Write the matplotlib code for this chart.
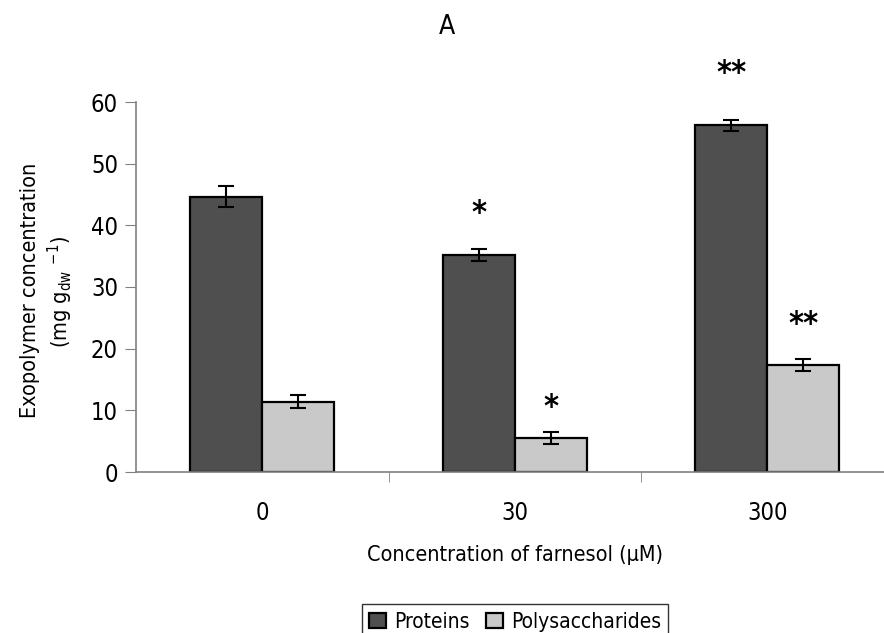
import matplotlib

matplotlib.use("Agg")
import matplotlib.pyplot as plt
import numpy as np

# data
conc_labels = ["0", "30", "300"]
proteins = [44.6, 35.2, 56.2]
proteins_err = [1.7, 1.0, 0.9]
polysacch = [11.4, 5.5, 17.4]
polysacch_err = [1.1, 1.0, 1.0]
prot_marks = ["", "*", "**"]
poly_marks = ["", "*", "**"]

plt.rcParams["font.family"] = ["DejaVu Sans"]
plt.rcParams["font.stretch"] = "condensed"

fig = plt.figure(figsize=(8.84, 6.33), dpi=100)
ax = fig.add_axes([136 / 884, 1 - 472 / 633, 757.5 / 884, 370 / 633])

x = np.arange(len(conc_labels))
w = 0.286
ax.bar(x - w / 2, proteins, w, color="#4f4f4f", edgecolor="black", lw=1.6, label="Proteins", zorder=2)
ax.bar(x + w / 2, polysacch, w, color="#c9c9c9", edgecolor="black", lw=1.6, label="Polysaccharides", zorder=2)
ax.errorbar(x - w / 2, proteins, yerr=proteins_err, fmt="none", ecolor="black", elinewidth=1.5,
            capsize=6, capthick=1.5, zorder=3)
ax.errorbar(x + w / 2, polysacch, yerr=polysacch_err, fmt="none", ecolor="black", elinewidth=1.5,
            capsize=6, capthick=1.5, zorder=3)

# significance marks
for xi, v, e, m in zip(x - w / 2, proteins, proteins_err, prot_marks):
    if m:
        off = 3.2 if len(m) == 1 else 5.0
        ax.text(xi, v + e + off, m, ha="center", va="bottom", fontsize=23, fontweight="bold")
for xi, v, e, m in zip(x + w / 2, polysacch, polysacch_err, poly_marks):
    if m:
        off = 1.4 if len(m) == 1 else 3.0
        ax.text(xi, v + e + off, m, ha="center", va="bottom", fontsize=23, fontweight="bold")

ax.set_xlim(-0.5, 2.5)
ax.set_ylim(0, 60)
ax.set_yticks(range(0, 61, 10))
ax.set_xticks(x)
ax.set_xticklabels(conc_labels)
ax.set_xticks([0.5, 1.5, 2.5], minor=True)
ax.tick_params(axis="x", which="major", length=0, pad=21, labelsize=17)
ax.tick_params(axis="x", which="minor", length=7, color="#808080")
ax.tick_params(axis="y", length=8, color="#808080", labelsize=17, pad=5)

for s in ("top", "right"):
    ax.spines[s].set_visible(False)
for s in ("left", "bottom"):
    ax.spines[s].set_color("#808080")
    ax.spines[s].set_linewidth(1.2)

ax.set_xlabel("Concentration of farnesol (µM)", fontsize=15.5, labelpad=14)
fig.text(30 / 884, 1 - 290 / 633, "Exopolymer concentration", rotation=90, ha="center", va="center",
         fontsize=15.5)
fig.text(60 / 884, 1 - 292 / 633, r"(mg g$_{\mathregular{dw}}$ $^{\mathregular{-1}}$)", rotation=90,
         ha="center", va="center", fontsize=15.5)
fig.text(447 / 884, 1 - 27 / 633, "A", ha="center", va="center", fontsize=19)

leg = fig.legend(loc="upper center", bbox_to_anchor=(515 / 884, 1 - 594 / 633), ncol=2, fontsize=15,
                 frameon=True, fancybox=False, handlelength=0.8, handleheight=0.8, handletextpad=0.4,
                 columnspacing=0.8, borderpad=0.35)
leg.get_frame().set_edgecolor("black")
leg.get_frame().set_linewidth(1.0)

fig.savefig("out.png", dpi=100, facecolor="white")
